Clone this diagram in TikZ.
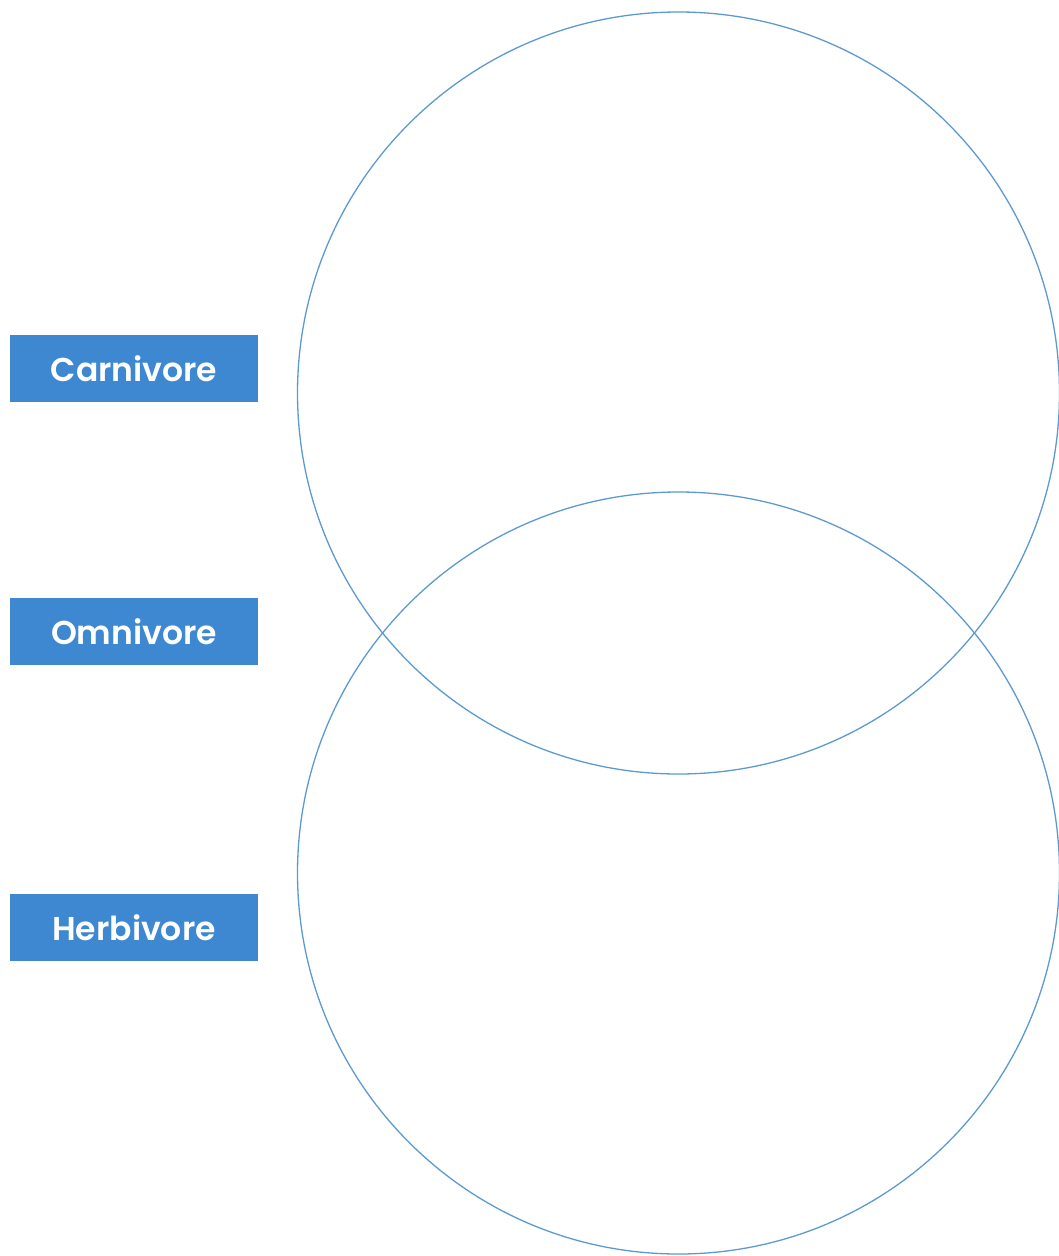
\documentclass[tikz,border=0pt]{standalone}
\usepackage{fontspec}
\setmainfont{Poppins}[UprightFont=* SemiBold]
\definecolor{boxblue}{HTML}{3E87D1}
\definecolor{ringblue}{HTML}{5D9AD3}
\begin{document}
\begin{tikzpicture}[x=1pt,y=-1pt,
  label box/.style={fill=boxblue, text=white, minimum width=248pt, minimum height=67pt, inner sep=0pt, font=\fontsize{33}{38}\selectfont},
  ring/.style={draw=ringblue, line width=1.3pt}]
\useasboundingbox (0,0) rectangle (1058,1256);
\fill[white] (0,0) rectangle (1058,1256);
\node[ring, circle, minimum size=762pt, inner sep=0pt] (top) at (678.5,393) {};
\node[ring, circle, minimum size=762pt, inner sep=0pt] (bottom) at (678.5,873) {};
\node[label box] (carn) at (134,368.5) {Carnivore};
\node[label box] (omni) at (134,631.5) {Omnivore};
\node[label box] (herb) at (134,927.5) {Herbivore};
\end{tikzpicture}
\end{document}
